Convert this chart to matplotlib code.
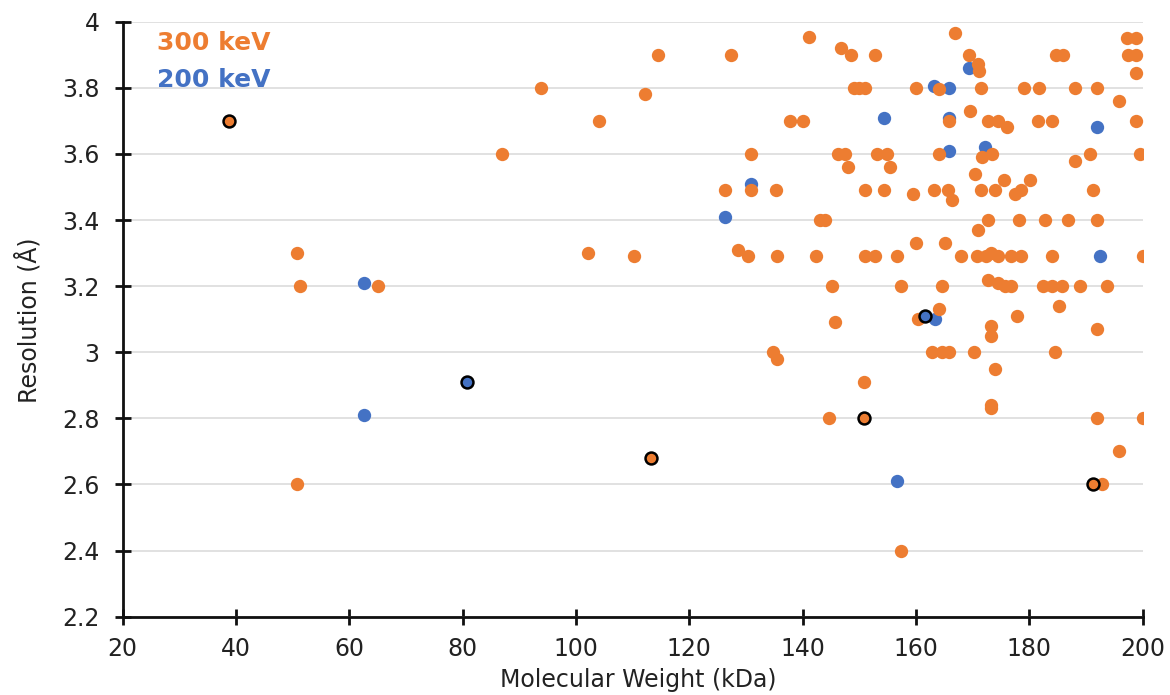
import matplotlib
matplotlib.use("Agg")
import matplotlib.pyplot as plt
from matplotlib.ticker import FixedLocator

# ---- data ----
orange_mw = [50.7, 51.3, 65.0, 87.0, 93.8, 104.1, 102.2, 50.7,
             114.4, 127.4, 112.1, 130.9, 126.3, 130.9, 135.3, 110.3, 128.6, 130.4, 135.5,
             134.8, 135.5,
             141.2, 146.8, 148.5, 152.7, 149.0, 150.0, 151.0, 137.8, 140.1, 146.2, 147.5, 148.0,
             153.1, 154.9, 155.5, 151.0, 154.3, 143.0, 143.9, 142.4, 151.0, 152.7, 156.7, 145.2,
             157.3, 145.8,
             150.9, 144.6, 157.3,
             166.9, 169.3, 170.9, 171.1, 160.0, 164.0, 171.4, 179.0, 165.9, 169.6, 172.7, 174.5,
             176.1, 164.0, 171.7, 173.5, 170.5, 159.5, 163.1, 165.7, 166.4, 171.4, 174.0, 175.6,
             177.4, 178.5, 180.2, 172.7, 170.9, 178.2, 160.0, 165.2, 168.0, 170.8, 172.3, 173.3,
             174.5, 176.7, 178.5, 164.6, 172.7, 174.5, 175.7, 176.8, 160.4, 164.0, 173.2, 177.8,
             173.3, 162.8, 164.6, 165.8, 170.3, 173.9, 173.3, 173.3,
             197.2, 198.8, 184.8, 185.9, 197.5, 198.8, 198.8, 181.8, 188.1, 192.0, 195.9, 181.6,
             184.0, 198.8, 190.7, 188.1, 199.5, 191.3, 182.8, 186.9, 191.9, 184.0, 200.0, 182.5,
             184.0, 185.8, 189.0, 193.7, 185.3,
             191.9, 184.6, 191.9, 200.0, 195.9, 192.8]
orange_res = [3.30, 3.20, 3.20, 3.60, 3.80, 3.70, 3.30, 2.60,
              3.90, 3.90, 3.78, 3.60, 3.49, 3.49, 3.49, 3.29, 3.31, 3.29, 3.29,
              3.00, 2.98,
              3.955, 3.92, 3.90, 3.90, 3.80, 3.80, 3.80, 3.70, 3.70, 3.60, 3.60, 3.56,
              3.60, 3.60, 3.56, 3.49, 3.49, 3.40, 3.40, 3.29, 3.29, 3.29, 3.29, 3.20,
              3.20, 3.09,
              2.91, 2.80, 2.40,
              3.965, 3.90, 3.873, 3.85, 3.80, 3.795, 3.80, 3.80, 3.70, 3.73, 3.70, 3.70,
              3.68, 3.60, 3.59, 3.60, 3.54, 3.48, 3.49, 3.49, 3.46, 3.49, 3.49, 3.52,
              3.48, 3.49, 3.52, 3.40, 3.37, 3.40, 3.33, 3.33, 3.29, 3.29, 3.29, 3.30,
              3.29, 3.29, 3.29, 3.20, 3.22, 3.21, 3.20, 3.20, 3.10, 3.13, 3.08, 3.11,
              3.05, 3.00, 3.00, 3.00, 3.00, 2.95, 2.84, 2.83,
              3.95, 3.95, 3.90, 3.90, 3.90, 3.90, 3.845, 3.80, 3.80, 3.80, 3.76, 3.70,
              3.70, 3.70, 3.60, 3.58, 3.60, 3.49, 3.40, 3.40, 3.40, 3.29, 3.29, 3.20,
              3.20, 3.20, 3.20, 3.20, 3.14,
              3.07, 3.00, 2.80, 2.80, 2.70, 2.60]

blue_mw = [62.6, 62.6, 126.3, 130.9, 154.3, 156.7, 163.1, 165.9, 169.3, 165.9, 165.9,
           172.1, 163.4, 191.9, 192.5]
blue_res = [3.21, 2.81, 3.41, 3.51, 3.71, 2.61, 3.805, 3.80, 3.86, 3.71, 3.61,
            3.62, 3.10, 3.68, 3.29]

hl_orange_mw = [38.8, 113.2, 150.9, 191.3]
hl_orange_res = [3.70, 2.68, 2.80, 2.60]
hl_blue_mw = [80.8, 161.6]
hl_blue_res = [2.91, 3.11]

y_ticks = [2.2, 2.4, 2.6, 2.8, 3.0, 3.2, 3.4, 3.6, 3.8, 4.0]
y_tick_labels = ["2.2", "2.4", "2.6", "2.8", "3", "3.2", "3.4", "3.6", "3.8", "4"]
x_ticks = [20, 40, 60, 80, 100, 120, 140, 160, 180, 200]

ORANGE = "#ED7D31"
BLUE = "#4472C4"

plt.rcParams['font.family'] = ['DejaVu Sans']
fig = plt.figure(figsize=(11.70, 6.95), dpi=100)
ax = fig.add_axes([0.1048, 0.1127, 0.8718, 0.8561])

S = 92
ax.scatter(blue_mw, blue_res, s=S, color=BLUE, linewidths=0, zorder=3)
ax.scatter(orange_mw, orange_res, s=S, color=ORANGE, linewidths=0, zorder=4)
ax.scatter(hl_orange_mw, hl_orange_res, s=S * 0.8, color=ORANGE, edgecolors="black",
           linewidths=1.8, zorder=5)
ax.scatter(hl_blue_mw, hl_blue_res, s=S * 0.8, color=BLUE, edgecolors="black",
           linewidths=1.8, zorder=5)

ax.set_xlim(20, 200)
ax.set_ylim(2.2, 4.0)
ax.xaxis.set_major_locator(FixedLocator(x_ticks))
ax.set_yticks(y_ticks)
ax.set_yticklabels(y_tick_labels)
ax.set_xticklabels([str(v) for v in x_ticks])

for side in ("top", "right"):
    ax.spines[side].set_visible(False)
for side in ("left", "bottom"):
    ax.spines[side].set_linewidth(2.0)
    ax.spines[side].set_color("#111111")
ax.tick_params(axis="both", direction="inout", length=11, width=2.0, color="#111111",
               labelsize=17, labelcolor="#222222")
ax.tick_params(axis="y", pad=11)
ax.tick_params(axis="x", pad=9)

ax.set_axisbelow(True)
ax.yaxis.grid(True, color="#dcdcdc", linewidth=1.2)
ax.xaxis.grid(False)
ax.spines["left"].set_zorder(6)
ax.spines["bottom"].set_zorder(6)

ax.text(0.034, 0.952, "300 keV", transform=ax.transAxes, color=ORANGE,
        fontsize=18, fontweight="bold", va="baseline", ha="left")
ax.text(0.034, 0.890, "200 keV", transform=ax.transAxes, color=BLUE,
        fontsize=18, fontweight="bold", va="baseline", ha="left")

fig.text(28 / 1170, 1 - 320 / 695, "Resolution (Å)", rotation=90, fontsize=17,
         color="#222222", ha="center", va="center")
fig.text(638 / 1170, 1 - 680 / 695, "Molecular Weight (kDa)", fontsize=17,
         color="#222222", ha="center", va="center")

fig.savefig("out.png", dpi=100)
